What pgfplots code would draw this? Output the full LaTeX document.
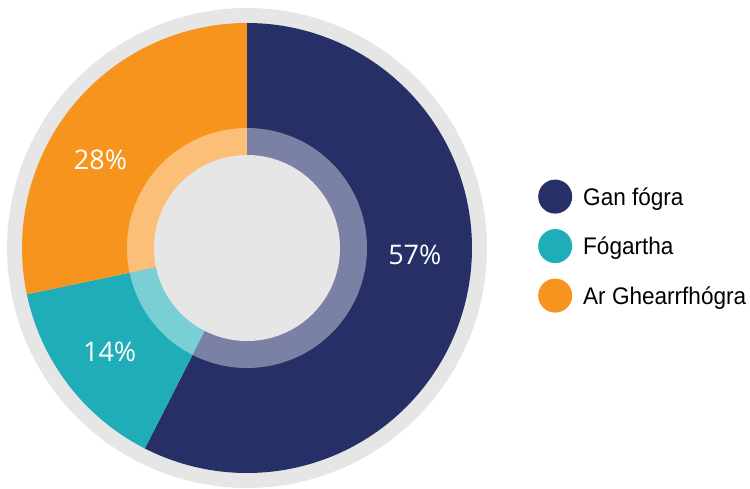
\documentclass[border=0pt]{standalone}
\usepackage{pgfplots}
\pgfplotsset{compat=1.18}
\usepgfplotslibrary{polar}
\usepackage{fontspec}
\setmainfont{Liberation Sans}
\newfontfamily\pctfont{Open Sans}
\newfontfamily\legfont[FakeStretch=0.94]{Liberation Sans}
\definecolor{navy}{HTML}{262F66}
\definecolor{navylt}{HTML}{7B80A5}
\definecolor{tealc}{HTML}{1FADB7}
\definecolor{teallt}{HTML}{79CFD3}
\definecolor{orangec}{HTML}{F7941E}
\definecolor{orangelt}{HTML}{FBBF78}
\definecolor{ringgray}{HTML}{E6E6E6}

% shares in percent
\def\vA{57.5} % Gan fógra
\def\vB{14.2} % Fógartha
\def\vC{28.3} % Ar Ghearrfhógra

\begin{document}
\begin{tikzpicture}
\useasboundingbox (0,0) rectangle (750pt,488pt);
\pgfmathsetmacro\aA{90-3.6*\vA}
\pgfmathsetmacro\aB{\aA-3.6*\vB}
\pgfmathsetmacro\aC{\aB-3.6*\vC}
\begin{polaraxis}[
  at={(247pt,240pt)}, anchor=center,
  scale only axis, width=480pt, height=480pt,
  ymin=0, ymax=240, hide axis, clip=false,
  legend style={at={(1.10625,0.504)}, anchor=west, draw=none, fill=none,
    inner sep=0pt, row sep=15.5pt,
    font=\legfont\fontsize{24}{26}\selectfont,
    nodes={inner sep=0pt, text depth=0pt}},
  legend cell align=left,
  legend image code/.code={\fill[#1, draw=none] (0pt,0pt) circle (17pt);},
  /tikz/every odd column/.append style={column sep=11pt},
]
% outer grey ring
\addplot[fill=ringgray, draw=none, domain=0:360, samples=361, forget plot] {240} -- cycle;
% main wedges
\addplot[fill=navy, draw=none, domain=\aA:90, samples=200, forget plot] {225} -- (axis cs:0,0) -- cycle;
\addplot[fill=tealc, draw=none, domain=\aB:\aA, samples=60, forget plot] {225} -- (axis cs:0,0) -- cycle;
\addplot[fill=orangec, draw=none, domain=\aC:\aB, samples=100, forget plot] {225} -- (axis cs:0,0) -- cycle;
% light inner ring
\addplot[fill=navylt, draw=none, domain=\aA:90, samples=200, forget plot] {120} -- (axis cs:0,0) -- cycle;
\addplot[fill=teallt, draw=none, domain=\aB:\aA, samples=60, forget plot] {120} -- (axis cs:0,0) -- cycle;
\addplot[fill=orangelt, draw=none, domain=\aC:\aB, samples=100, forget plot] {120} -- (axis cs:0,0) -- cycle;
% centre
\addplot[fill=ringgray, draw=none, domain=0:360, samples=361, forget plot] {93} -- cycle;
% labels
\node[text=white, font=\pctfont\fontsize{27}{30}\selectfont] at (axis cs:-2.4,168) {57\%};
\node[text=white, font=\pctfont\fontsize{27}{30}\selectfont] at (axis cs:149,171) {28\%};
\node[text=white, font=\pctfont\fontsize{27}{30}\selectfont] at (axis cs:217,172) {14\%};
% legend
\addlegendimage{fill=navy}
\addlegendentry{Gan fógra}
\addlegendimage{fill=tealc}
\addlegendentry{Fógartha}
\addlegendimage{fill=orangec}
\addlegendentry{Ar Ghearrfhógra}
\end{polaraxis}
\end{tikzpicture}
\end{document}
